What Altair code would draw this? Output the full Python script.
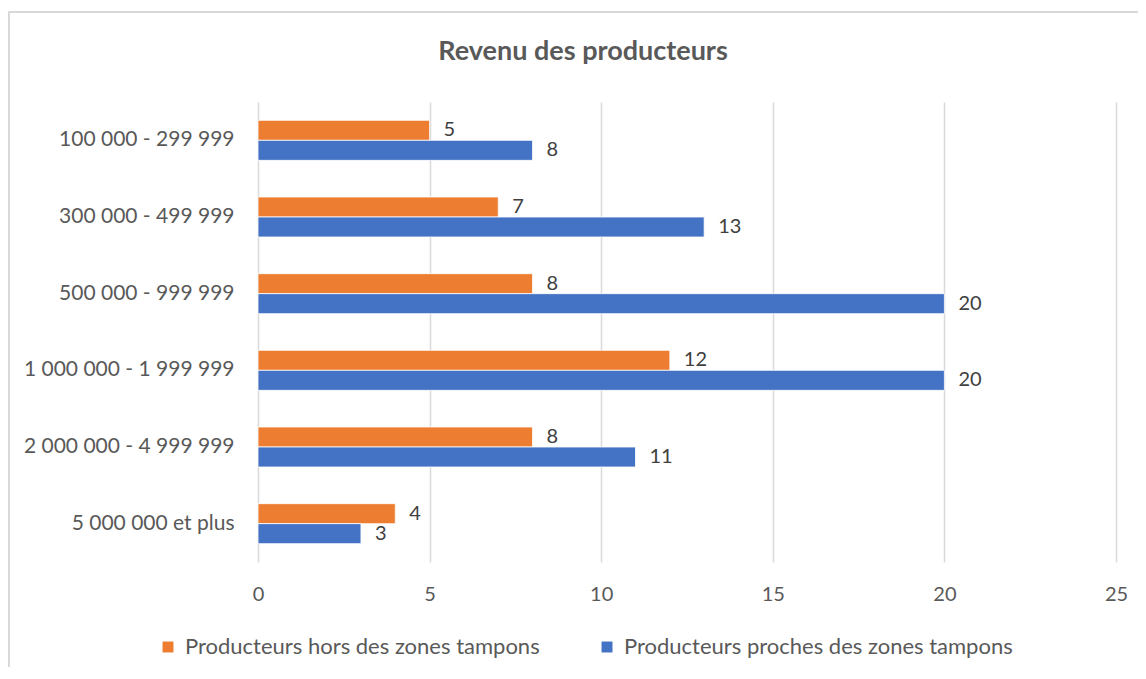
import altair as alt
import pandas as pd

categories = ["100 000 - 299 999", "300 000 - 499 999", "500 000 - 999 999",
              "1 000 000 - 1 999 999", "2 000 000 - 4 999 999", "5 000 000 et plus"]
series_names = ["Producteurs hors des zones tampons", "Producteurs proches des zones tampons"]
hors_values = [5, 7, 8, 12, 8, 4]
proches_values = [8, 13, 20, 20, 11, 3]
x_ticks = [0, 5, 10, 15, 20, 25]
title_text = "Revenu des producteurs"
colors = ["#ED7D31", "#4472C4"]

rows = []
for c, h, p in zip(categories, hors_values, proches_values):
    rows.append({"cat": c, "serie": series_names[0], "val": h})
    rows.append({"cat": c, "serie": series_names[1], "val": p})
df = pd.DataFrame(rows)

FONT = "Lato"

y_scale = alt.Scale(paddingInner=0.478, paddingOuter=0.239)
x_scale = alt.Scale(domain=[0, 25], nice=False)

y_enc = alt.Y("cat:N", sort=categories, title=None, scale=y_scale,
              axis=alt.Axis(domain=False, ticks=False, labelPadding=24,
                            labelFontSize=21, labelColor="#595959", labelFont=FONT,
                            labelLimit=400))
yoff = alt.YOffset("serie:N", sort=series_names, scale=alt.Scale(paddingInner=0, paddingOuter=0))
x_enc = alt.X("val:Q", title=None, scale=x_scale,
              axis=alt.Axis(values=x_ticks, domain=False, ticks=False, labelPadding=22,
                            labelFlush=False,
                            labelFontSize=20, labelColor="#595959", labelFont=FONT,
                            grid=True, gridColor="#d9d9d9", gridWidth=1.5))

color_enc = alt.Color("serie:N", sort=series_names,
                      scale=alt.Scale(domain=series_names, range=colors),
                      legend=alt.Legend(title=None, orient="none", legendX=-101, legendY=534,
                                        direction="horizontal", symbolType="square",
                                        symbolSize=120, symbolStrokeWidth=0,
                                        labelFontSize=22, labelColor="#595959", labelFont=FONT,
                                        labelOffset=6, columnPadding=56, labelLimit=600))

bars = alt.Chart(df).mark_bar(stroke="white", strokeWidth=0.8).encode(
    x=x_enc, y=y_enc, yOffset=yoff, color=color_enc)

labels = alt.Chart(df).mark_text(align="left", baseline="middle", dx=14,
                                 fontSize=20, color="#404040", font=FONT).encode(
    x=alt.X("val:Q"),
    y=alt.Y("cat:N", sort=categories),
    yOffset=yoff, text="val:Q")

one = pd.DataFrame({"t": [title_text]})
title = alt.Chart(one).mark_text(align="center", baseline="middle", fontSize=27,
                                 fontWeight="bold", color="#595959", font=FONT).encode(
    x=alt.value(325), y=alt.value(-50), text="t:N")

border = alt.Chart(one).mark_rect(fillOpacity=0, stroke="#d9d9d9", strokeWidth=2).encode(
    x=alt.value(-249), x2=alt.value(1000), y=alt.value(-90), y2=alt.value(700))

chart = alt.layer(border, bars, labels, title).properties(
    width=858, height=460,
    autosize=alt.AutoSizeParams(type="none"),
    padding={"left": 250, "top": 94, "right": 22, "bottom": 105},
).configure(font=FONT).configure_view(strokeWidth=0)

chart.save("out.html", embed_options={"renderer": "svg", "actions": False})
